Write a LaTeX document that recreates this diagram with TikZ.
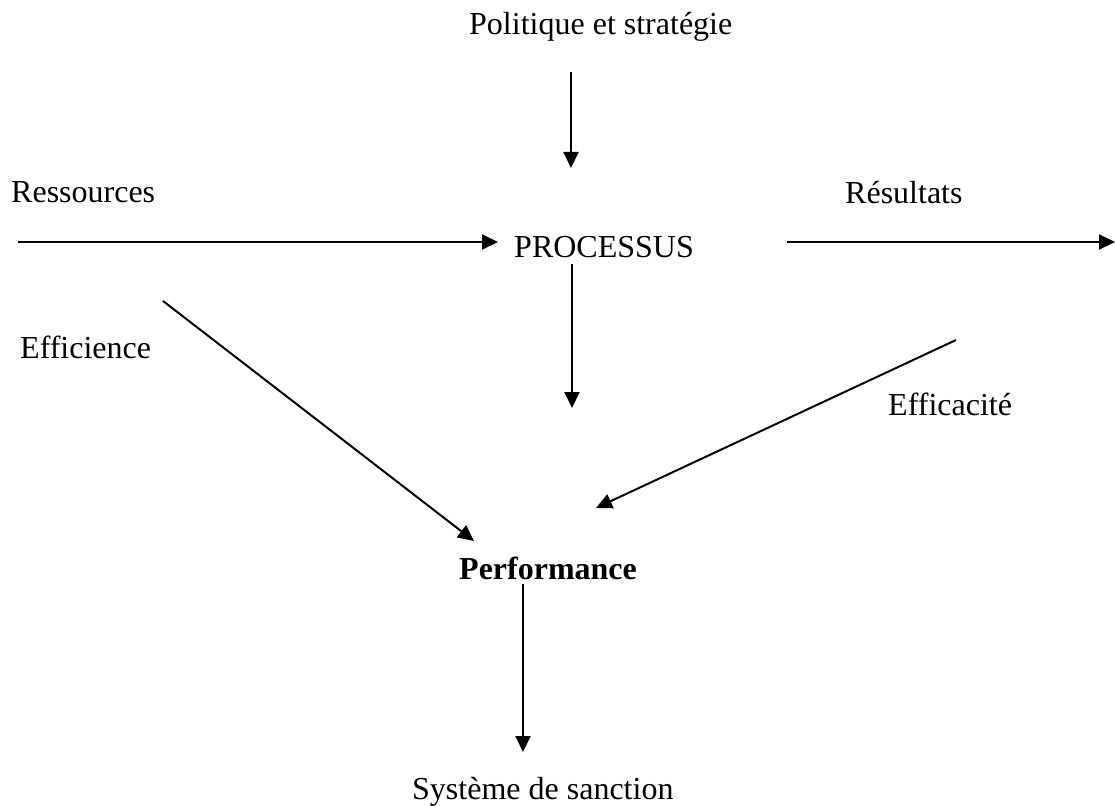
\documentclass[tikz,border=0pt]{standalone}
\usepackage{fontspec}
\setmainfont{Liberation Serif}
\usetikzlibrary{arrows.meta}
\begin{document}
\begin{tikzpicture}[x=1pt,y=-1pt,
  lbl/.style={anchor=base west,inner sep=0pt,font=\fontsize{32}{37}\selectfont},
  conn/.style={line width=2pt,-{Triangle[length=16pt,width=15pt]}}]
\useasboundingbox (0,0) rectangle (1115,805);
% texts
\node[lbl] (pol) at (469,35) {Politique et stratégie};
\node[lbl] (res) at (11,202) {Ressources};
\node[lbl] (proc) at (514,257) {PROCESSUS};
\node[lbl] (resu) at (845,203) {Résultats};
\node[lbl] (effi) at (20,358) {Efficience};
\node[lbl] (effa) at (888,415) {Efficacité};
\node[lbl,font=\fontsize{32}{37}\selectfont\bfseries] (perf) at (459,579) {Performance};
\node[lbl] (sys) at (412,799) {Système de sanction};
% connector end points
\coordinate (a1s) at (571,72);   \coordinate (a1e) at (571,168);
\coordinate (a2s) at (18,242);   \coordinate (a2e) at (498,242);
\coordinate (a3s) at (787,242);  \coordinate (a3e) at (1115,242);
\coordinate (a4s) at (572,264);  \coordinate (a4e) at (572,408);
\coordinate (a5s) at (163,301);  \coordinate (a5e) at (474,541);
\coordinate (a6s) at (956,340);  \coordinate (a6e) at (596,508);
\coordinate (a7s) at (523,584);  \coordinate (a7e) at (523,752);
% connectors
\draw[conn] (a1s) -- (a1e);
\draw[conn] (a2s) -- (a2e);
\draw[conn] (a3s) -- (a3e);
\draw[conn] (a4s) -- (a4e);
\draw[conn] (a5s) -- (a5e);
\draw[conn] (a6s) -- (a6e);
\draw[conn] (a7s) -- (a7e);
\end{tikzpicture}
\end{document}
